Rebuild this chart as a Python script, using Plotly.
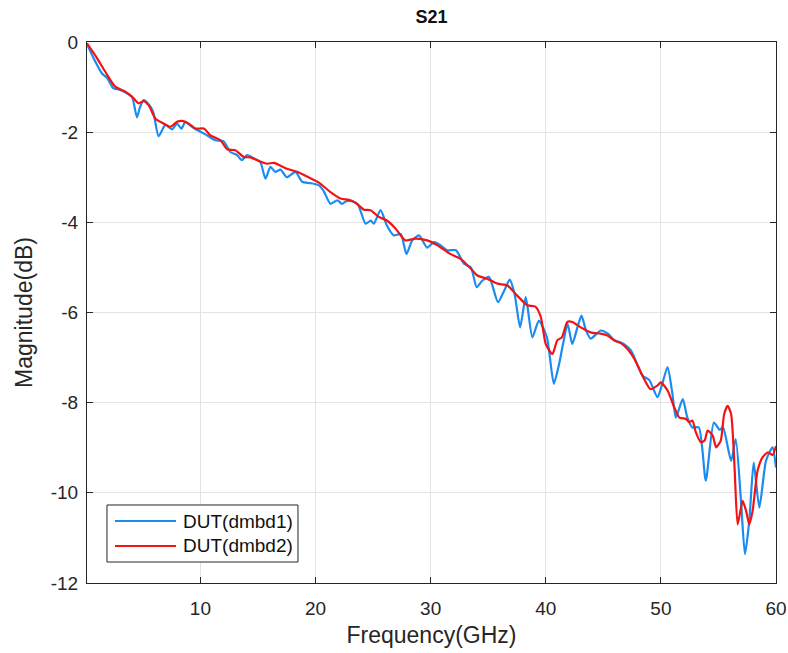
import plotly.graph_objects as go

# DUT(dmbd1) - blue
freq1 = [0.15, 0.8, 1.45, 1.9, 2.46, 2.9, 3.5, 4.06, 4.49, 4.75, 5.07, 5.5, 5.9, 6.37, 6.96, 7.53, 7.97, 8.35, 8.7, 9.1, 9.57, 10.15,
         10.58, 11.3, 12.0, 12.6, 13.19, 13.6, 14.06, 14.64, 15.2, 15.65, 16.09, 16.5, 16.96, 17.5, 18.26, 18.84, 19.57, 20.3,
         20.7, 21.3, 21.9, 22.3, 22.7, 23.3, 23.7, 24.35, 24.8, 25.07, 25.65, 26.2, 26.8, 27.4, 27.9, 28.4, 28.99, 29.7, 30.3, 30.87,
         31.45, 32.2, 32.9, 33.5, 34.0, 34.5, 35.07, 35.85, 36.4, 36.87, 37.3, 37.77, 38.26, 38.84, 39.4, 40.1, 40.7, 41.16,
         41.5, 41.9, 42.3, 42.75, 43.1, 43.5, 43.9, 44.78, 45.4, 45.9, 46.8, 47.4, 48.0, 48.4, 49.0, 49.7, 50.1, 50.58, 51.0,
         51.3, 51.9, 52.3, 52.75, 53.3, 53.9, 54.6, 55.1, 55.4, 56.1, 56.5, 56.96, 57.3, 57.68, 58.06, 58.55, 59.13, 59.7, 60.0]
mag1 = [-0.05, -0.4, -0.7, -0.8, -1.03, -1.05, -1.12, -1.22, -1.67, -1.45, -1.29, -1.38, -1.55, -2.09, -1.84, -1.94, -1.81, -1.92, -1.77, -1.85, -1.93, -2.01,
        -2.07, -2.18, -2.2, -2.44, -2.51, -2.62, -2.51, -2.58, -2.66, -3.03, -2.77, -2.88, -2.83, -3.0, -2.88, -3.1, -3.13, -3.18,
        -3.3, -3.59, -3.51, -3.59, -3.53, -3.54, -3.61, -4.03, -3.96, -4.03, -3.73, -4.07, -4.29, -4.26, -4.7, -4.4, -4.29, -4.56, -4.44, -4.51,
        -4.62, -4.62, -4.92, -5.0, -5.44, -5.29, -5.21, -5.77, -5.51, -5.27, -5.6, -6.33, -5.66, -6.55, -6.18, -6.55, -7.58, -7.14,
        -6.7, -6.25, -6.7, -6.33, -6.07, -6.4, -6.58, -6.4, -6.47, -6.6, -6.7, -6.84, -7.18, -7.4, -7.5, -7.88, -7.6, -7.21, -7.8,
        -8.33, -7.92, -8.33, -8.55, -8.55, -9.73, -8.44, -8.6, -8.55, -9.29, -8.81, -10.18, -11.36, -10.62, -9.33, -10.33, -9.29, -8.99, -9.44]

# DUT(dmbd2) - red
freq2 = [0.15, 1.0, 1.74, 2.6, 3.48, 4.06, 4.64, 5.07, 5.5, 6.09, 6.67, 7.39, 7.97, 8.4, 8.99, 9.57, 10.3,
         10.87, 11.74, 12.32, 13.04, 13.77, 14.35, 15.07, 15.8, 16.4, 17.5, 18.4, 19.3, 20.3,
         21.3, 22.17, 23.04, 23.6, 24.2, 24.78, 25.5, 26.2, 26.96, 27.8, 28.7, 29.7, 30.6,
         31.7, 32.6, 33.5, 34.06, 34.9, 35.8, 36.67, 37.5, 38.4, 39.1, 39.57, 40.0, 40.58, 41.0,
         41.4, 41.88, 42.3, 43.04, 43.9, 44.78, 45.36, 45.94, 46.52, 47.1, 47.7, 48.4, 49.1, 49.7, 50.0, 50.58,
         51.16, 51.6, 52.17, 52.46, 52.75, 53.04, 53.48, 53.8, 54.06, 54.5, 54.8, 55.2, 55.5, 55.8, 56.1, 56.4, 56.67,
         57.1, 57.4, 57.68, 57.97, 58.4, 58.84, 59.3, 59.7, 60.0]
mag2 = [-0.03, -0.35, -0.66, -0.99, -1.1, -1.21, -1.36, -1.31, -1.4, -1.7, -1.79, -1.88, -1.77, -1.75, -1.81, -1.92, -1.92,
        -2.07, -2.18, -2.38, -2.4, -2.55, -2.56, -2.64, -2.7, -2.68, -2.81, -2.88, -2.99, -3.12,
        -3.33, -3.47, -3.51, -3.59, -3.72, -3.73, -3.88, -3.96, -4.14, -4.4, -4.36, -4.4, -4.51,
        -4.7, -4.81, -5.03, -5.18, -5.25, -5.36, -5.4, -5.62, -5.84, -5.87, -6.1, -6.7, -6.92, -6.62,
        -6.55, -6.21, -6.21, -6.33, -6.44, -6.47, -6.51, -6.62, -6.68, -6.81, -7.03, -7.4, -7.7, -7.62, -7.55, -7.73,
        -8.1, -8.33, -8.36, -8.43, -8.4, -8.66, -8.88, -8.84, -8.62, -8.73, -8.99, -8.84, -8.25, -8.07, -8.25, -9.44, -10.7,
        -10.18, -10.4, -10.7, -10.4, -9.51, -9.21, -9.1, -9.16, -8.96]

series_names = ["DUT(dmbd1)", "DUT(dmbd2)"]
series_colors = ["#1a8cf0", "#f21414"]

x_ticks = [10, 20, 30, 40, 50, 60]
x_tick_labels = ["10", "20", "30", "40", "50", "60"]
y_ticks = [0, -2, -4, -6, -8, -10, -12]
y_tick_labels = ["0", "-2", "-4", "-6", "-8", "-10", "-12"]

font = "Liberation Sans, Arial, sans-serif"
axis_col = "#262626"

W, H = 788, 653
L, T, R, B = 87, 42, 12, 70

fig = go.Figure()
for fx, my, nm, col in [(freq1, mag1, series_names[0], series_colors[0]),
                        (freq2, mag2, series_names[1], series_colors[1])]:
    fig.add_trace(go.Scatter(x=fx, y=my, mode="lines", name=nm, showlegend=False,
                             line=dict(color=col, width=2.2, shape="spline", smoothing=0.6)))

axis_common = dict(showgrid=True, gridcolor="#e3e3e3", gridwidth=1, zeroline=False,
                   showline=True, linecolor=axis_col, linewidth=1.2, mirror="ticks",
                   ticks="inside", ticklen=6, tickcolor=axis_col, automargin=False,
                   ticklabeloverflow="allow",
                   tickfont=dict(family=font, size=19, color=axis_col))

# legend box drawn in plot-area (paper) fractions, MATLAB style
box = dict(x0=0.029, x1=0.3062, y0=0.0388, y1=0.1442)
rows_y = [0.1146, 0.0684]
shapes = [dict(type="rect", xref="paper", yref="paper", layer="above",
               fillcolor="white", line=dict(color=axis_col, width=1), **box)]
annotations = []
for ry, nm, col in zip(rows_y, series_names, series_colors):
    shapes.append(dict(type="line", xref="paper", yref="paper", layer="above",
                       x0=0.0406, x1=0.1292, y0=ry, y1=ry, line=dict(color=col, width=2.2)))
    annotations.append(dict(text=nm, xref="paper", yref="paper", x=0.1364, y=ry,
                            xanchor="left", yanchor="middle", showarrow=False,
                            font=dict(family=font, size=19, color="#111111")))

fig.update_layout(
    width=W, height=H,
    margin=dict(l=L, r=R, t=T, b=B),
    paper_bgcolor="white", plot_bgcolor="white",
    title=dict(text="<b>S21</b>", x=(L + (W - R)) / 2 / W, xanchor="center", y=1 - 17 / H, yanchor="middle",
               font=dict(family=font, size=18, color="#111111")),
    xaxis=dict(range=[0.15, 60], tickvals=x_ticks, ticktext=x_tick_labels, ticklabelstandoff=8,
               title=dict(text="Frequency(GHz)", font=dict(family=font, size=23, color=axis_col), standoff=8),
               **axis_common),
    yaxis=dict(range=[-12, 0], tickvals=y_ticks, ticktext=y_tick_labels, ticklabelstandoff=4,
               title=dict(text="Magnitude(dB)", font=dict(family=font, size=23, color=axis_col), standoff=11),
               **axis_common),
    shapes=shapes,
    annotations=annotations,
    showlegend=False,
)

# remove the default page margin so the 788x653 figure fills the window exactly
fig.write_html("out.html", config={"displayModeBar": False},
               post_script="document.body.style.margin='0';document.body.style.overflow='hidden';")
